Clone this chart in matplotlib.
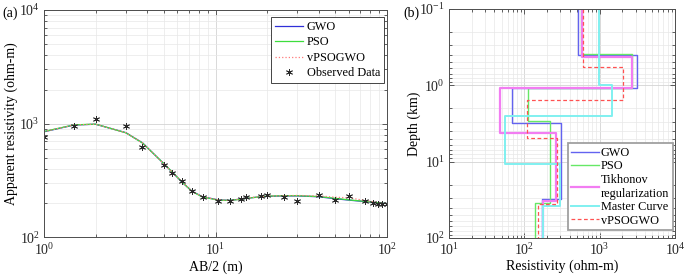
import numpy as np
import matplotlib
matplotlib.use("Agg")
import matplotlib.pyplot as plt
from matplotlib.ticker import LogLocator, NullFormatter

plt.rcParams['font.family'] = ['Liberation Serif', 'DejaVu Serif']
plt.rcParams['mathtext.fontset'] = 'stix'
plt.rcParams['font.size'] = 10

# (a) sounding curve
ab2 = [1, 1.5, 2, 3, 3.75, 5, 5.6, 6.4, 7.3, 8.4, 10.4, 12.1, 14.1, 15.1,
       18.3, 20, 25.2, 30, 40, 50, 60, 74, 83, 89, 94, 100]
rho_obs = [770, 950, 1100, 950, 620, 430, 366, 313, 257, 227, 210, 210, 218, 227,
           232, 235, 229, 208, 234, 214, 231, 208, 203, 199, 197, 197]
rho_gwo = [850, 975, 990, 835, 680, 445, 375, 305, 255, 228, 214, 212, 218, 221,
           228, 230, 232, 232, 228, 219, 213, 207, 204, 202, 200, 199]
rho_pso = [855, 978, 992, 833, 678, 446, 376, 306, 254, 227, 213, 212, 217, 221,
           228, 231, 233, 233, 229, 221, 214, 208, 204, 202, 200, 199]
rho_vpg = [852, 976, 991, 834, 679, 445, 375, 306, 255, 228, 214, 212, 218, 222,
           229, 231, 233, 234, 232, 226, 223, 212, 206, 203, 201, 200]

# (b) layered models: resistivity per layer, depth of layer bottoms (km)
gwo_res = [520, 3150, 69, 310, 172]
gwo_dep = [0.40, 1.08, 3.07, 30.4]
pso_res = [565, 2680, 112, 222, 138]
pso_dep = [0.39, 1.08, 2.92, 34.4]
tik_res = [580, 2700, 48, 267, 178]
tik_dep = [0.43, 1.10, 4.15, 33.0]
mc_res = [990, 1470, 56, 296, 176]
mc_dep = [0.99, 2.5, 10.6, 38.0]
vpg_res = [600, 2050, 107, 275, 152]
vpg_dep = [0.58, 1.56, 4.97, 36.0]

top_depth, bottom_depth = 0.1, 100


def step_profile(res, dep):
    d = [top_depth] + list(dep) + [bottom_depth]
    xs, ys = [], []
    for i, r in enumerate(res):
        xs += [r, r]
        ys += [d[i], d[i + 1]]
    return xs, ys


def matlab_axes(ax):
    ax.tick_params(which='both', direction='in', top=True, right=True,
                   colors='#262626', labelsize=10)
    ax.tick_params(which='major', length=3.5, width=0.5, pad=3)
    ax.tick_params(which='minor', length=2, width=0.5)
    for s in ax.spines.values():
        s.set_color('#4d4d4d')
        s.set_linewidth(0.7)
    ax.grid(True, which='major', color='#d3d3d3', linewidth=0.6)
    ax.grid(True, which='minor', color='#e8e8e8', linewidth=0.5)
    ax.set_axisbelow(True)


fig = plt.figure(figsize=(6.85, 2.76), dpi=100)
ax1 = fig.add_axes([0.0642, 0.1395, 0.5008, 0.8243])
ax2 = fig.add_axes([0.6555, 0.1377, 0.3299, 0.8297])

# Panel (a)
ax1.loglog(ab2, rho_gwo, color='#3030d8', lw=0.9, label='GWO')
ax1.loglog(ab2, rho_pso, color='#3ddd3d', lw=0.9, label='PSO')
ax1.loglog(ab2, rho_vpg, color='#ff7a7a', lw=0.9, ls=':', label='vPSOGWO')
ax1.loglog(ab2, rho_obs, ls='none', marker=(6, 2, 0), color='#2a2a2a', ms=5,
           markeredgewidth=0.6, label='Observed Data')
ax1.set_xlim(1, 100)
ax1.set_ylim(100, 10000)
matlab_axes(ax1)
ax1.set_xlabel('AB/2 (m)')
ax1.set_ylabel('Apparent resistivity (ohm-m)')
ax1.xaxis.set_label_coords(0.5, -0.103)
ax1.yaxis.set_label_coords(-0.075, 0.5)
leg1 = ax1.legend(loc='upper right', bbox_to_anchor=(0.99, 0.968), fancybox=False,
                  edgecolor='#262626', framealpha=1, handlelength=2.3,
                  labelspacing=0.28, borderpad=0.3, handletextpad=0.3,
                  borderaxespad=0, fontsize=8.8)
leg1.get_frame().set_linewidth(0.6)

# Panel (b)
profiles = [
    (gwo_res, gwo_dep, 'GWO', '#6363f0', '-', 1.0),
    (pso_res, pso_dep, 'PSO', '#66e866', '-', 1.0),
    (tik_res, tik_dep, 'Tikhonov\nregularization', '#f27df2', '-', 1.6),
    (mc_res, mc_dep, 'Master Curve', '#80f0f0', '-', 1.4),
    (vpg_res, vpg_dep, 'vPSOGWO', '#ff5252', (0, (3, 2)), 0.9),
]
for res, dep, name, col, ls, lw in profiles:
    xs, ys = step_profile(res, dep)
    ax2.plot(xs, ys, color=col, ls=ls, lw=lw, label=name)
ax2.set_xscale('log')
ax2.set_yscale('log')
ax2.set_xlim(10, 10000)
ax2.set_ylim(bottom_depth, top_depth)
ax2.yaxis.set_minor_locator(LogLocator(base=10, subs=np.arange(2, 10)))
ax2.yaxis.set_minor_formatter(NullFormatter())
matlab_axes(ax2)
ax2.set_xlabel('Resistivity (ohm-m)')
ax2.set_ylabel('Depth (km)')
ax2.xaxis.set_label_coords(0.5, -0.094)
ax2.yaxis.set_label_coords(-0.124, 0.5)
leg2 = ax2.legend(loc='lower right', bbox_to_anchor=(0.99, 0.035), fancybox=False,
                  edgecolor='#a0a0a0', framealpha=1, handlelength=2.3,
                  labelspacing=0.12, borderpad=0.28, handletextpad=0.15,
                  borderaxespad=0, fontsize=8.8)
leg2.get_frame().set_linewidth(1.3)

fig.text(0.004, 0.975, '(a)', fontsize=10, va='top')
fig.text(0.589, 0.975, '(b)', fontsize=10, va='top')

fig.savefig('out.png', dpi=100)
